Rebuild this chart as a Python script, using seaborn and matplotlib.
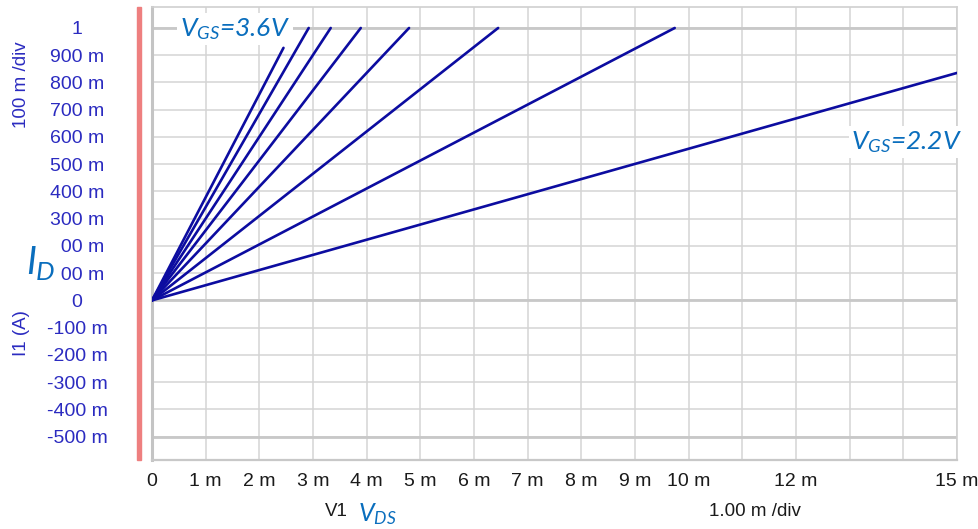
import matplotlib
matplotlib.use("Agg")
import matplotlib.pyplot as plt
import seaborn as sns
import pandas as pd
from matplotlib.patches import Rectangle

# ---- data ----
vgs_labels = ["2.2", "2.4", "2.6", "2.8", "3.0", "3.2", "3.4", "3.6"]
vds_end = [15.0e-3, 9.74e-3, 6.45e-3, 4.79e-3, 3.89e-3, 3.33e-3, 2.92e-3, 2.45e-3]
id_end = [0.835, 1.0, 1.0, 1.0, 1.0, 1.0, 1.0, 0.927]

x_ticks = [i * 1e-3 for i in range(16)]
x_ticklabels = ["0", "1 m", "2 m", "3 m", "4 m", "5 m", "6 m", "7 m", "8 m", "9 m",
                "10 m", "", "12 m", "", "", "15 m"]
y_ticks = [1.0, 0.9, 0.8, 0.7, 0.6, 0.5, 0.4, 0.3, 0.2, 0.1, 0.0,
           -0.1, -0.2, -0.3, -0.4, -0.5]
y_ticklabels = ["1", "900 m", "800 m", "700 m", "600 m", "500 m", "400 m", "300 m",
                "200 m", "100 m", "0", "-100 m", "-200 m", "-300 m", "-400 m", "-500 m"]

rows = []
for lab, xe, ye in zip(vgs_labels, vds_end, id_end):
    rows.append({"VGS": lab, "VDS": 0.0, "ID": 0.0})
    rows.append({"VGS": lab, "VDS": xe, "ID": ye})
df = pd.DataFrame(rows)

# ---- style ----
sns.set_style("white")
plt.rcParams['font.family'] = ['Liberation Sans', 'DejaVu Sans']
plt.rcParams['mathtext.fontset'] = 'custom'
plt.rcParams['mathtext.it'] = 'Lato:italic'
plt.rcParams['mathtext.rm'] = 'Lato:italic'

W, H = 979, 529
fig = plt.figure(figsize=(W / 100, H / 100), dpi=100)
L, R, T, B = 152, 957, 7, 460
ax = fig.add_axes([L / W, 1 - B / H, (R - L) / W, (B - T) / H])

line_color = "#0c0ca0"
sns.lineplot(data=df, x="VDS", y="ID", hue="VGS", palette=[line_color] * len(vgs_labels),
             legend=False, ax=ax, linewidth=1.9, estimator=None, sort=False, zorder=5)

ax.set_xlim(0, 15e-3)
ax.set_ylim(-0.586, 1.077)

grid_c = "#d4d4d4"
for xv in x_ticks:
    ax.axvline(xv, color=grid_c, lw=1.1, zorder=1)
for yv in y_ticks:
    ax.axhline(yv, color=grid_c, lw=1.1, zorder=1)
for yv in [1.0, 0.0, -0.5]:
    ax.axhline(yv, color="#c8c8c8", lw=2.0, zorder=2)

ax.set_xticks(x_ticks)
ax.set_xticklabels(x_ticklabels, fontsize=14, color="#1a1a1a")
ax.set_yticks(y_ticks)
ax.set_yticklabels(y_ticklabels, fontsize=14, color="#2b2bc0")
for lbl in ax.get_yticklabels():
    lbl.set_horizontalalignment("center")
ax.tick_params(axis="y", length=0, pad=54)
ax.tick_params(axis="x", length=0, pad=9)
ax.set_xlabel("")
ax.set_ylabel("")

for s in ["top", "right", "bottom"]:
    ax.spines[s].set_color("#d0d0d0")
    ax.spines[s].set_linewidth(1.2)
ax.spines["left"].set_color("#c4c4c4")
ax.spines["left"].set_linewidth(2.2)
ax.spines["bottom"].set_color("#c8c8c8")
ax.spines["bottom"].set_linewidth(1.6)

# red bar at left of plot
fig.patches.append(Rectangle((137 / W, 1 - B / H), 4.5 / W, (B - T) / H,
                             transform=fig.transFigure, color="#ee7f7f", zorder=3))

def fx(px):
    return px / W

def fy(py):
    return 1 - py / H

purple = "#2b2bc0"
fig.text(fx(22), fy(85), "100 m /div", rotation=90, ha="center", va="center",
         fontsize=13.5, color=purple)
fig.text(fx(22), fy(333), "I1 (A)", rotation=90, ha="center", va="center",
         fontsize=13.5, color=purple)
fig.text(fx(336), fy(512), "V1", ha="center", va="center", fontsize=13.5, color="#1a1a1a")
fig.text(fx(755), fy(512), "1.00 m /div", ha="center", va="center", fontsize=13.5,
         color="#1a1a1a")

blue = "#0a6ebd"
fig.text(fx(377), fy(514), r"$V_{DS}$", ha="center", va="center", fontsize=18, color=blue)
fig.text(fx(41), fy(263), r"$I_{D}$", ha="center", va="center", fontsize=27, color=blue,
         bbox=dict(facecolor="white", edgecolor="none", pad=4), zorder=10)

fig.text(fx(235), fy(29), r"$V_{GS}$=3.6V", ha="center", va="center", fontsize=19,
         color=blue, family="Lato", style="italic",
         bbox=dict(facecolor="white", edgecolor="none", pad=2), zorder=10)
fig.text(fx(907), fy(142), r"$V_{GS}$=2.2V", ha="center", va="center", fontsize=19,
         color=blue, family="Lato", style="italic",
         bbox=dict(facecolor="white", edgecolor="none", pad=2), zorder=10)

fig.savefig("out.png", dpi=100)
